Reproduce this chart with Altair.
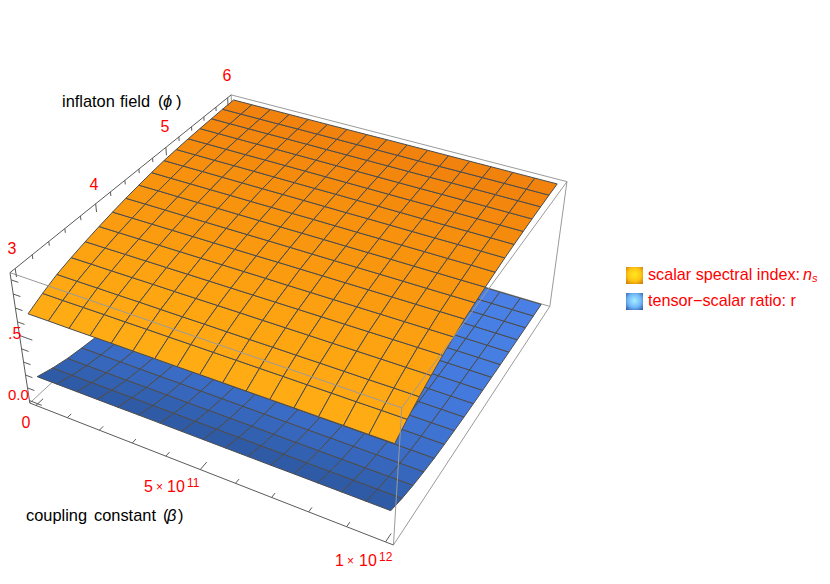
import altair as alt
import numpy as np

# --- data ---
BETA_NODES = [i * 6.25e10 for i in range(17)]
PHI_NODES = [3 + 0.1875 * j for j in range(17)]
NS = [
 [.644,.697,.742,.774,.802,.827,.849,.869,.886,.901,.914,.922,.929,.934,.938,.941,.944],
 [.645,.697,.742,.775,.803,.828,.850,.870,.887,.901,.914,.922,.929,.934,.938,.941,.944],
 [.645,.698,.743,.775,.804,.829,.851,.871,.887,.902,.915,.922,.929,.934,.938,.941,.944],
 [.646,.699,.743,.776,.805,.830,.852,.871,.888,.902,.915,.923,.929,.934,.938,.941,.944],
 [.647,.699,.744,.777,.806,.831,.853,.872,.889,.903,.915,.923,.930,.935,.939,.942,.944],
 [.647,.700,.744,.777,.807,.832,.854,.873,.889,.903,.915,.923,.930,.935,.939,.942,.944],
 [.648,.700,.744,.778,.808,.833,.855,.874,.890,.904,.916,.923,.930,.935,.939,.942,.944],
 [.648,.701,.745,.779,.809,.834,.856,.875,.890,.904,.916,.923,.930,.935,.939,.942,.944],
 [.649,.701,.745,.780,.810,.835,.858,.876,.891,.905,.916,.924,.930,.935,.939,.942,.945],
 [.650,.702,.745,.780,.811,.835,.859,.876,.892,.905,.916,.924,.930,.935,.939,.942,.945],
 [.650,.702,.746,.781,.812,.836,.860,.877,.892,.905,.917,.924,.930,.935,.939,.942,.945],
 [.651,.703,.746,.782,.813,.837,.861,.878,.893,.906,.917,.924,.930,.935,.939,.942,.945],
 [.652,.703,.747,.782,.814,.838,.862,.879,.894,.906,.917,.924,.931,.936,.940,.943,.945],
 [.652,.704,.747,.783,.815,.839,.863,.880,.894,.907,.917,.924,.931,.936,.940,.943,.945],
 [.653,.704,.747,.784,.816,.840,.864,.880,.895,.907,.918,.925,.931,.936,.940,.943,.945],
 [.653,.705,.748,.784,.817,.841,.865,.881,.895,.908,.918,.925,.931,.936,.940,.943,.945],
 [.654,.705,.748,.785,.818,.842,.866,.882,.896,.908,.918,.925,.931,.936,.940,.943,.945],
]
R = [
 [.172,.134,.105,.086,.070,.058,.048,.040,.034,.029,.025,.021,.018,.016,.014,.012,.011],
 [.172,.134,.105,.086,.070,.058,.048,.040,.034,.029,.025,.021,.018,.016,.014,.012,.011],
 [.172,.134,.105,.086,.070,.058,.048,.040,.034,.029,.025,.021,.018,.016,.014,.012,.011],
 [.172,.135,.105,.086,.070,.058,.048,.040,.034,.029,.025,.021,.018,.016,.014,.012,.011],
 [.172,.135,.106,.086,.070,.058,.048,.040,.034,.029,.025,.021,.018,.016,.014,.012,.011],
 [.173,.135,.106,.087,.070,.058,.048,.040,.034,.029,.025,.021,.018,.016,.014,.012,.011],
 [.173,.135,.106,.087,.070,.058,.048,.040,.034,.029,.025,.021,.018,.016,.014,.012,.011],
 [.173,.135,.106,.087,.070,.058,.048,.040,.034,.029,.025,.021,.018,.016,.014,.012,.011],
 [.173,.136,.107,.087,.071,.059,.049,.041,.034,.029,.025,.021,.018,.016,.014,.012,.011],
 [.173,.136,.107,.087,.071,.059,.049,.041,.034,.029,.025,.021,.018,.016,.014,.012,.011],
 [.173,.136,.107,.087,.071,.059,.049,.041,.034,.029,.025,.021,.018,.016,.014,.012,.011],
 [.173,.136,.107,.087,.071,.059,.049,.041,.034,.029,.025,.021,.018,.016,.014,.012,.011],
 [.174,.136,.108,.088,.071,.059,.049,.041,.034,.029,.025,.021,.018,.016,.014,.012,.011],
 [.174,.137,.108,.088,.071,.059,.049,.041,.034,.029,.025,.021,.018,.016,.014,.012,.011],
 [.174,.137,.108,.088,.071,.059,.049,.041,.034,.029,.025,.021,.018,.016,.014,.012,.011],
 [.174,.137,.109,.088,.071,.059,.049,.041,.034,.029,.025,.021,.018,.016,.014,.012,.011],
 [.174,.137,.109,.088,.071,.059,.049,.041,.034,.029,.025,.021,.018,.016,.014,.012,.011],
]
ORANGE = ["#FFAB14","#FFA813","#FEA512","#FDA211","#FC9F11","#FB9C10","#FA990F","#F9960F","#F8930E","#F7910E","#F68E0E","#F58B0D","#F4890D","#F3860D","#F2840D","#F1820D"]
BLUE = ["#2F5AA6","#3361B2","#3767BD","#3A6CC6","#3D70CD","#3F73D2","#4176D6","#4378DA","#447ADD","#457BDF","#467DE1","#477EE2","#487FE3","#487FE4","#4980E5","#4A80E6"]

BOX_BETA = (-2e10, 1.02e12)
BOX_PHI = (2.94, 6.06)
BOX_Z = (-.02, .95)
ANCHORS = [((0,0,0),(30,403.5)),((1,0,0),(393,545)),((1,1,0),(550,306)),
           ((0,0,1),(10,272)),((1,0,1),(402,408)),((1,1,1),(567,182)),((0,1,1),(231,95))]
A = []; b = []
for (X_,Y_,Z_),(x,y) in ANCHORS:
    A.append([X_,Y_,Z_,1,0,0,0,0,-x*X_,-x*Y_,-x*Z_]); b.append(x)
    A.append([0,0,0,0,X_,Y_,Z_,1,-y*X_,-y*Y_,-y*Z_]); b.append(y)
P = np.append(np.linalg.lstsq(np.array(A,float),np.array(b,float),rcond=None)[0],1).reshape(3,4)

def proj(beta, phi, z):
    u = (beta-BOX_BETA[0])/(BOX_BETA[1]-BOX_BETA[0])
    v = (phi-BOX_PHI[0])/(BOX_PHI[1]-BOX_PHI[0])
    w = (z-BOX_Z[0])/(BOX_Z[1]-BOX_Z[0])
    h = P @ np.array([u,v,w,1.0])
    return [float(h[0]/h[2]-8), float(h[1]/h[2]-8)]

def cells(table, shades):
    out = []
    for i in range(16):
        for j in range(16):
            ring = [proj(BETA_NODES[a],PHI_NODES[c],table[a][c]) for a,c in ((i,j),(i+1,j),(i+1,j+1),(i,j+1),(i,j))]
            out.append({"type":"Feature","geometry":{"type":"Polygon","coordinates":[ring]},"properties":{"fill":shades[j]}})
    return out

def seg(p, q, col):
    return {"type":"Feature","geometry":{"type":"LineString","coordinates":[proj(*p),proj(*q)]},"properties":{"col":col}}

b0,b1 = BOX_BETA; p0,p1 = BOX_PHI; z0,z1 = BOX_Z
GRAY = "#9a9a9a"; DARK = "#5a5a5a"
back = [seg((b0,p1,z0),(b1,p1,z0),GRAY),seg((b0,p0,z0),(b0,p1,z0),GRAY),seg((b0,p1,z0),(b0,p1,z1),GRAY)]
front = [seg((b0,p0,z1),(b1,p0,z1),GRAY),seg((b1,p0,z1),(b1,p0,z0),GRAY),seg((b1,p0,z0),(b1,p1,z0),GRAY),
         seg((b1,p1,z0),(b1,p1,z1),GRAY),seg((b1,p0,z1),(b1,p1,z1),GRAY),seg((b0,p1,z1),(b1,p1,z1),GRAY),
         seg((b0,p0,z0),(b1,p0,z0),DARK),seg((b0,p0,z0),(b0,p0,z1),DARK),seg((b0,p0,z1),(b0,p1,z1),DARK)]
for k in range(11):
    t = k*1e11
    front.append(seg((t,p0,z0),(t,p0+(.09 if k%5==0 else .05),z0),DARK))
for k in range(16):
    t = 3+k*.2
    front.append(seg((b0,t,z1),(b0,t,z1-(.06 if k%5==0 else .03)),DARK))
for k in range(10):
    t = k*.1
    front.append(seg((b0,p0,t),(b0+(4e10 if k%5==0 else 2.2e10),p0,t),DARK))

SVG_W,SVG_H = 814,566
def lines(f):
    return alt.Chart(alt.Data(values=f)).mark_geoshape(filled=False,strokeWidth=1).encode(stroke=alt.Stroke("properties.col:N",scale=None)).project(type="identity",scale=1,translate=[0,0])
def surf(f):
    return alt.Chart(alt.Data(values=f)).mark_geoshape(stroke="#4c4c4c",strokeWidth=1).encode(fill=alt.Fill("properties.fill:N",scale=None)).project(type="identity",scale=1,translate=[0,0])

X = lambda f: alt.X(f,scale=alt.Scale(domain=[0,SVG_W],range=[0,SVG_W],nice=False,zero=False),axis=None)
Y = lambda f: alt.Y(f,scale=alt.Scale(domain=[0,SVG_H],range=[0,SVG_H],nice=False,zero=False),axis=None)

RED="#ff0000"; BK="#000000"
LABELS = [("3",12,249,"center",16,RED,"normal"),("4",94,185,"center",16,RED,"normal"),("5",165,127,"center",16,RED,"normal"),("6",227,76,"center",16,RED,"normal"),
 ("0.0",8,395,"left",15,RED,"normal"),(".5",8,334,"left",16,RED,"normal"),("0",26,423,"center",16,RED,"normal"),
 ("5",144,487,"left",16,RED,"normal"),("×",156,487,"left",12,RED,"normal"),("10",167,487,"left",16,RED,"normal"),("11",187,483,"left",12,RED,"normal"),
 ("1",335,561,"left",16,RED,"normal"),("×",347,561,"left",12,RED,"normal"),("10",359,561,"left",16,RED,"normal"),("12",379,557,"left",12,RED,"normal"),
 ("inflaton",62,102,"left",16.4,BK,"normal"),("field",120,102,"left",16.4,BK,"normal"),("(",158,102,"left",16.4,BK,"normal"),("ϕ",163,102,"left",16.4,BK,"italic"),(")",176,102,"left",16.4,BK,"normal"),
 ("coupling",26,516,"left",16.4,BK,"normal"),("constant",94,516,"left",16.4,BK,"normal"),("(",163,516,"left",16.4,BK,"normal"),("β",167,516,"left",16.4,BK,"italic"),(")",178,516,"left",16.4,BK,"normal"),
 ("scalar spectral index:",648,275,"left",16.2,RED,"normal"),("n",803,275,"left",16.2,RED,"italic"),("s",812,279,"left",11,RED,"italic"),
 ("tensor−scalar ratio: r",648,301,"left",16.2,RED,"normal")]
rows = [dict(t=t,x=x-8,y=y-8,al=a,sz=s,c=c,st=st) for t,x,y,a,s,c,st in LABELS]
texts=[]
for r in rows:
    texts.append(alt.Chart(alt.Data(values=[r])).mark_text(font="Liberation Sans",align=r["al"],baseline="middle",fontSize=r["sz"],fontStyle=r["st"],color=r["c"]).encode(x=X("x:Q"),y=Y("y:Q"),text="t:N"))

def swatch(x0,y0,x1,y1,stops):
    g = alt.RadialGradient(gradient="radial",x1=.5,y1=.45,x2=.5,y2=.45,r1=0,r2=.72,stops=[alt.GradientStop(color=c,offset=o) for o,c in stops])
    return alt.Chart(alt.Data(values=[dict(x=x0-8,x2=x1-8,y=y0-8,y2=y1-8)])).mark_rect(fill=g).encode(x=X("x:Q"),x2="x2:Q",y=Y("y:Q"),y2="y2:Q")
sw = [swatch(626,267,643,284,[(0,"#FFE81E"),(.55,"#FFC414"),(1,"#C87808")]),
      swatch(626,293,643,310,[(0,"#A5EEFF"),(.55,"#70B8F8"),(1,"#3058A8")])]

chart = alt.layer(lines(back),surf(cells(R,BLUE)),surf(cells(NS,ORANGE)),lines(front),*sw,*texts).properties(
    width=SVG_W,height=SVG_H,padding=0,autosize=alt.AutoSizeParams(type="none"),background="white").configure_view(stroke=None)
chart.save("out.html", embed_options={"renderer": "svg", "actions": False})
